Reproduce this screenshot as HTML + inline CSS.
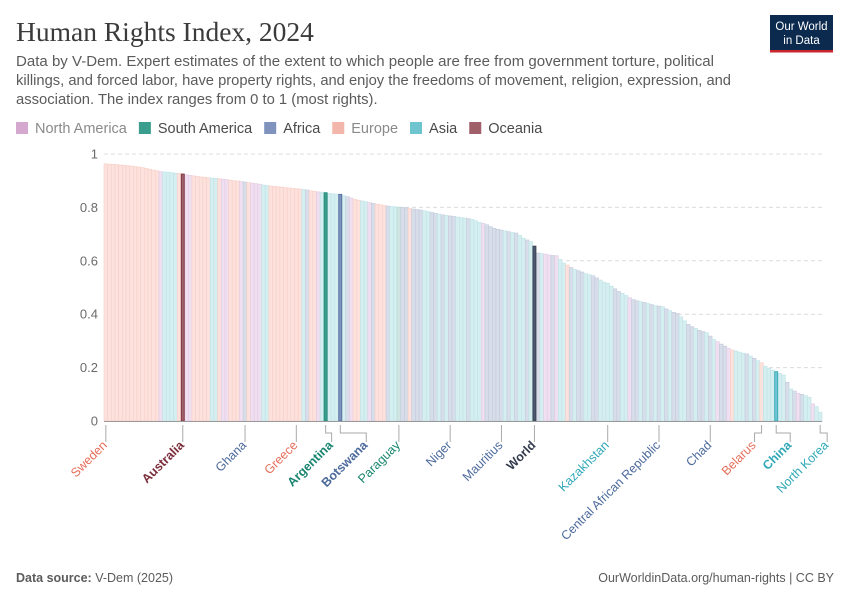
<!DOCTYPE html>
<html><head><meta charset="utf-8"><style>
body{margin:0;background:#fff;font-family:"Liberation Sans",sans-serif;}
#wrap{position:relative;width:850px;height:600px;overflow:hidden;}
</style></head><body>
<div id="wrap">
<svg id="svg" width="850" height="600" xmlns="http://www.w3.org/2000/svg">
<text x="16" y="41" font-family="Liberation Serif,serif" font-size="27.5" fill="#3b3b3b">Human Rights Index, 2024</text>
<g>
<rect x="770" y="15" width="63" height="35" fill="#0b2a4e"/>
<rect x="770" y="50" width="63" height="2.5" fill="#c8252c"/>
<text x="801.5" y="30" font-size="11.5" fill="#fff" text-anchor="middle">Our World</text>
<text x="801.5" y="44" font-size="11.5" fill="#fff" text-anchor="middle">in Data</text>
</g>
<g font-size="14.8" fill="#5b5b5b">
<text x="16" y="66" textLength="698" lengthAdjust="spacingAndGlyphs">Data by V-Dem. Expert estimates of the extent to which people are free from government torture, political</text>
<text x="16" y="85" textLength="715" lengthAdjust="spacingAndGlyphs">killings, and forced labor, have property rights, and enjoy the freedoms of movement, religion, expression, and</text>
<text x="16" y="104">association. The index ranges from 0 to 1 (most rights).</text>
</g>
<g id="legend" font-size="14.5"></g>
<g id="grid"></g>
<g id="bars"></g>
<g id="labels"></g>
<text x="16" y="582" font-size="12.5" fill="#5b5b5b"><tspan font-weight="bold">Data source:</tspan> V-Dem (2025)</text>
<text x="834" y="582" font-size="12.5" fill="#5b5b5b" text-anchor="end">OurWorldinData.org/human-rights | CC BY</text>
</svg>
</div>
<script>
const values=[.963,.962,.961,.960,.959,.958,.956,.955,.953,.951,.949,.946,.943,.940,.937,
.934,.933,.932,.930,.928,.927,.925,
.922,.920,.918,.916,.914,.913,.911,
.910,.909,.907,.906,.904,.902,.900,.899,
.897,.895,.893,.891,.889,.887,.884,.882,
.880,.879,.877,.876,.874,.873,.871,.870,
.869,.867,.865,.862,.860,.858,.857,.855,.852,.851,.850,.849,
.844,.840,.835,.830,.827,
.824,.821,.818,.815,.812,.810,.807,.805,
.803,.802,.801,.800,.798,.796,.794,.792,
.790,.787,.784,.781,.778,.775,.772,
.770,.768,.766,.764,.762,.760,.758,
.755,.750,.744,.740,.735,.728,.722,.718,
.715,.712,.709,.706,.704,.695,.685,.678,.672,.655,
.629,.627,.625,.622,.620,.619,.605,.592,.584,.575,.568,
.563,.558,.552,.548,.544,.536,.528,.520,
.516,.505,.495,.485,.478,.470,.462,.455,.450,
.447,.444,.440,.436,.432,.430,.428,.420,.413,.407,
.403,.390,.375,.362,.353,.347,.340,.335,
.331,.318,.305,.297,.288,.280,.272,
.266,.262,.258,.254,.251,.243,.235,
.226,.218,.205,.197,.191,.185,.178,.172,.145,.120,.112,
.104,.100,.095,.089,.064,.054,.033];
const regions=("EEEEEEEEEE"+"EEEEENAAAA"+"EONNEEEEEA"+"AENNEEENEE"+"NNNAAEEEEE"+"EEEEAFEENA"+
"SAAAFAFNEE"+"AANFEEEFAA"+"SFFEFFFAAF"+"FAFAAFAAAF"+"AAANFFFFFA"+"FAFAAFAWFA"+
"NNFNAAEFAF"+"FAAFFAAFAF"+"FAANFFAFAF"+"AFAFAFFAAF"+"FAFFAFANFF"+"NEAAAFAFAE"+
"AAAAAAFAFN"+"FAANAA").split("");
const labelNames=["Sweden","Australia","Ghana","Greece","Argentina","Botswana","Paraguay","Niger","Mauritius","World","Kazakhstan","Central African Republic","Chad","Belarus","China","North Korea"];
const labelIndex=[0,21,38,52,60,64,80,94,108,117,137,151,165,179,183,195];
const labelRegion=["E","O","F","E","S","F","S","F","F","W","A","F","F","E","A","A"];
const highlighted=[21,60,64,117,183];
const yTicks=[0,0.2,0.4,0.6,0.8,1];
const yTickLabels=["0","0.2","0.4","0.6","0.8","1"];
const legendNames=["North America","South America","Africa","Europe","Asia","Oceania"];
const legendKeys=["N","S","F","E","A","O"];

const NS="http://www.w3.org/2000/svg";
const X0=104,X1=822,Y0=421,Y1=154;
const bw=(X1-X0)/values.length;
const x=i=>X0+i*bw;
const y=v=>Y0-(Y0-Y1)*v;
const full={N:"#d4a8cf",S:"#3a9e8f",F:"#7f93bd",E:"#f2b6aa",A:"#6ec4cf",O:"#a0606a",W:"#4d5870"};
const faded={N:"#efdff0",S:"#cfe6e2",F:"#d7dde9",E:"#fce1dc",A:"#d5eef0",O:"#e8d3d6",W:"#d0d4dc"};
const fadedStroke={N:"#e2cbe3",S:"#b5d8d2",F:"#c3cbdc",E:"#f7cfc7",A:"#bfe3e7",O:"#d8bcc0",W:"#b8bdc8"};
const textCol={N:"#a15c9a",S:"#18856f",F:"#4c6a9c",E:"#e56e5a",A:"#30a8b8",O:"#7b2d3b",W:"#333c4c"};
function el(t,a,p){const e=document.createElementNS(NS,t);for(const k in a)e.setAttribute(k,a[k]);p.appendChild(e);return e;}
labelIndex.forEach((idx,j)=>{regions[idx]=labelRegion[j];});

const lg=document.getElementById('legend');
let lx=16;
legendNames.forEach((n,i)=>{
  const g=el('g',{},lg);
  
  
  el('rect',{x:lx,y:122,width:12,height:12,fill:full[legendKeys[i]]},g);
  const t=el('text',{x:lx+19,y:133,fill:(legendKeys[i]==="N"||legendKeys[i]==="E")?"#8a8a8a":"#4a4a4a"},g);
  t.textContent=n;
  lx+=19+t.getComputedTextLength()+12;
});

const gr=document.getElementById('grid');
yTicks.forEach((v,i)=>{
  if(v>0){const l=el('line',{x1:X0,x2:X1,y1:y(v),y2:y(v),stroke:"#dcdcdc","stroke-dasharray":"4,3"},gr);
  
  }
  const t=el('text',{x:98,y:y(v)+4.5,"font-size":13,fill:"#6b6b6b","text-anchor":"end"},gr);
  
  
  t.textContent=yTickLabels[i];
});

const bg=document.getElementById('bars');
values.forEach((v,i)=>{
  if(highlighted.includes(i))return;
  const r=regions[i];
  const b=el('rect',{x:x(i),y:y(v),width:bw,height:Y0-y(v),fill:faded[r],stroke:fadedStroke[r],"stroke-width":0.6},bg);
  
  
});
highlighted.forEach(i=>{
  const r=regions[i];
  const b=el('rect',{x:x(i)+0.3,y:y(values[i]),width:bw-0.6,height:Y0-y(values[i]),fill:full[r],stroke:textCol[r],"stroke-width":0.8},bg);
  
  
});
const ax=el('line',{x1:X0,x2:X1,y1:Y0+0.5,y2:Y0+0.5,stroke:"#999","stroke-width":1},bg);



const lb=document.getElementById('labels');
const labelOffset=[0,0,0,0,6,26,0,0,0,0,0,0,0,-7,14,7];
labelIndex.forEach((idx,j)=>{
  const bx=x(idx)+bw/2, tx=bx+labelOffset[j];
  const r=labelRegion[j];
  const p=el('path',{d:`M${bx},425 L${bx},433 L${tx},433 L${tx},442`,fill:"none",stroke:"#aaa","stroke-width":1},lb);
  
  
  const bold=highlighted.includes(idx);
  const t=el('text',{x:tx+2,y:446,"font-size":12.5,"font-weight":bold?"bold":"normal",fill:textCol[r],"text-anchor":"end",transform:`rotate(-45 ${tx+2} 446)`},lb);
  
  
  t.textContent=labelNames[j];
});
</script>
</body></html>
